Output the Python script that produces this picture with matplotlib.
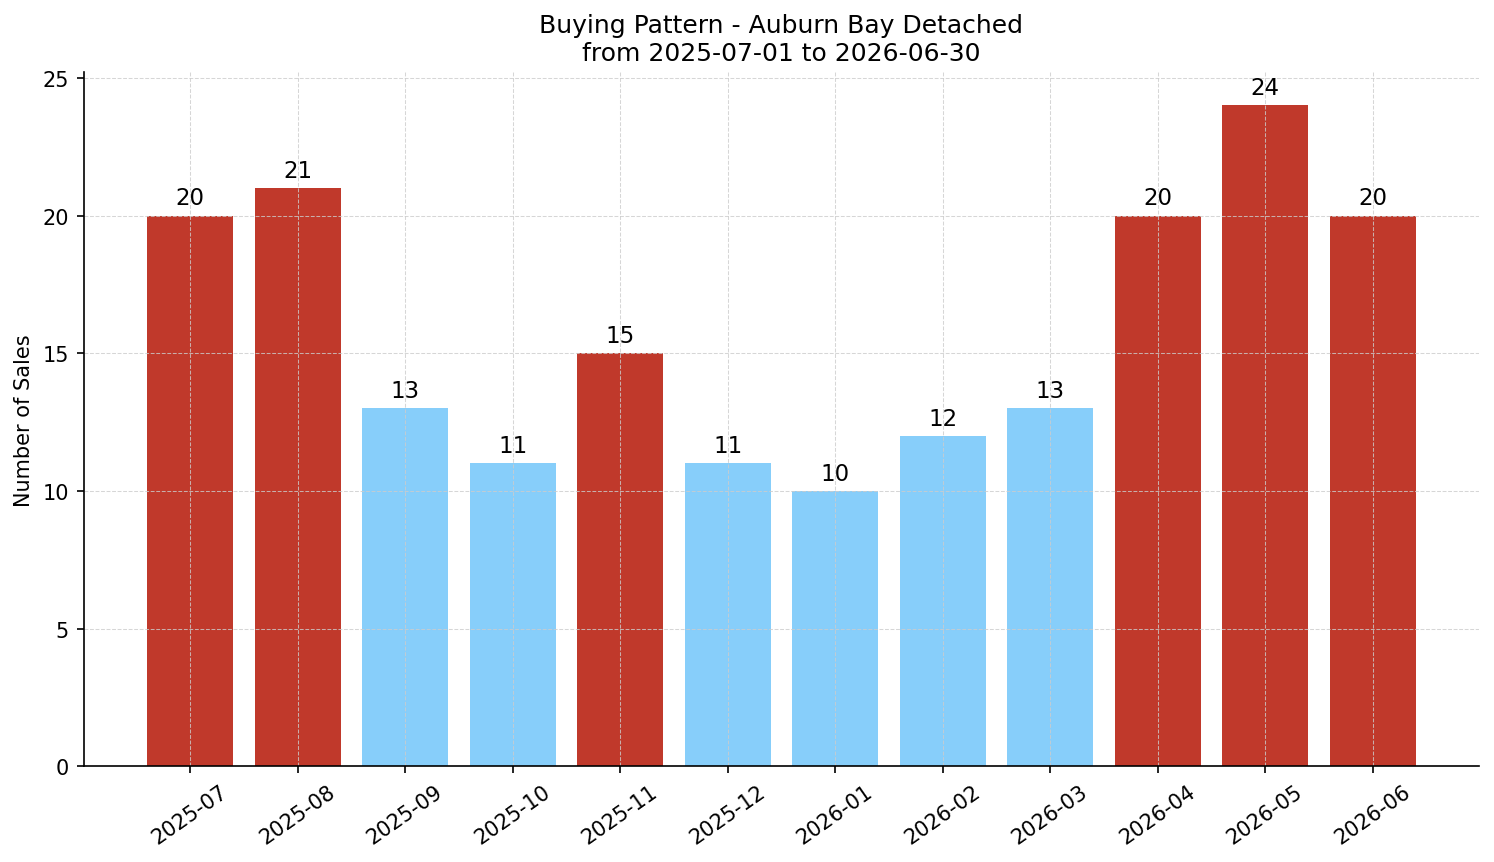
import matplotlib
matplotlib.use("Agg")
import matplotlib.pyplot as plt

months = ['2025-07', '2025-08', '2025-09', '2025-10', '2025-11', '2025-12',
          '2026-01', '2026-02', '2026-03', '2026-04', '2026-05', '2026-06']
sales = [20, 21, 13, 11, 15, 11, 10, 12, 13, 20, 24, 20]
threshold = 15

colors = ['#c0392b' if s >= threshold else '#87cefa' for s in sales]

fig, ax = plt.subplots(figsize=(9.96, 5.753), dpi=150)
bars = ax.bar(months, sales, color=colors)
ax.bar_label(bars, padding=3, fontsize=11)

ax.set_title('Buying Pattern - Auburn Bay Detached\nfrom 2025-07-01 to 2026-06-30', fontsize=12)
ax.set_ylabel('Number of Sales')
ax.grid(True, linestyle='--', linewidth=0.5, color='#cccccc', alpha=0.8)
ax.spines['top'].set_visible(False)
ax.spines['right'].set_visible(False)
plt.setp(ax.get_xticklabels(), rotation=35)

fig.subplots_adjust(left=0.056, right=0.99, top=0.915, bottom=0.111)
fig.savefig('out.png', dpi=150)
